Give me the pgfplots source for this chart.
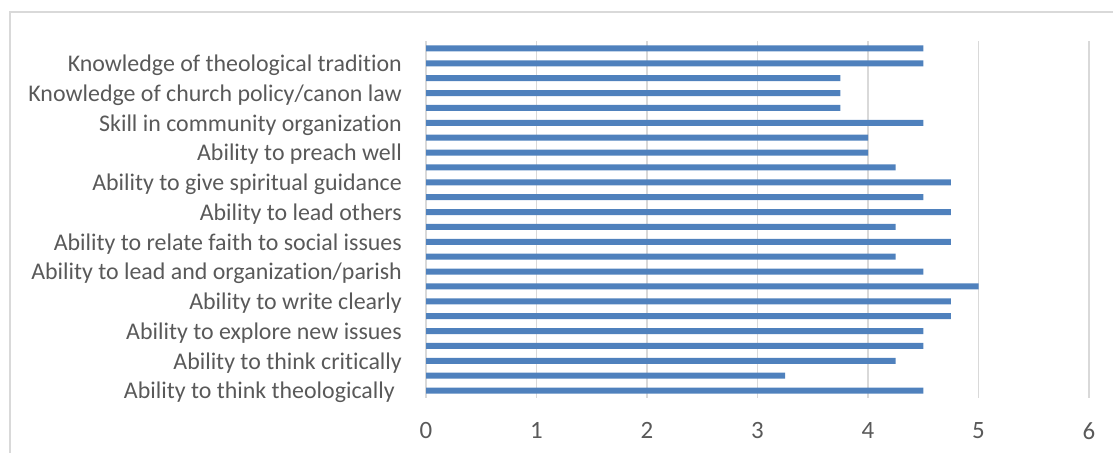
\documentclass[border=0pt]{standalone}
\usepackage{pgfplots}
\pgfplotsset{compat=1.18}
\usepackage{fontspec}
\setmainfont{Carlito}[Ligatures={NoCommon}]
\definecolor{barblue}{HTML}{4F81BD}
\definecolor{gridgray}{HTML}{D9D9D9}
\definecolor{textgray}{HTML}{595959}
\begin{document}
\begin{tikzpicture}[x=1bp,y=1bp]
\useasboundingbox (0,0) rectangle (1113,453);
% chart frame (only top and left visible)
\draw[gridgray, line width=1.5bp] (10,0) -- (10,441) -- (1113,441);
\begin{axis}[
    at={(426bp,55bp)}, anchor=south west,
    scale only axis,
    width=663bp, height=357bp,
    xbar, bar width=6bp,
    xmin=0, xmax=6,
    ymin=0.5, ymax=24.5,
    xtick={0,...,6},
    ytick={1,3,...,23},
    yticklabels={
        Ability to think theologically\kern7bp,
        Ability to think critically,
        Ability to explore new issues,
        Ability to write clearly,
        Ability to lead and organization/parish,
        Ability to relate faith to social issues,
        Ability to lead others,
        Ability to give spiritual guidance,
        Ability to preach well,
        Skill in community organization,
        Knowledge of church policy/canon law,
        Knowledge of theological tradition},
    axis line style={draw=none},
    major tick length=0pt,
    xmajorgrids,
    grid style={gridgray, line width=1.5bp},
    yticklabel style={font=\fontsize{24}{26}\selectfont, text=textgray, inner sep=0pt, xshift=-24bp, yshift=-2bp},
    xticklabel style={font=\fontsize{25}{27}\selectfont, text=textgray, inner sep=0pt, yshift=-24bp},
    /pgf/number format/assume math mode=true,
]
\addplot[fill=barblue, draw=none] coordinates {
    (4.5,1) (3.25,2) (4.25,3) (4.5,4) (4.5,5) (4.75,6)
    (4.75,7) (5,8) (4.5,9) (4.25,10) (4.75,11) (4.25,12)
    (4.75,13) (4.5,14) (4.75,15) (4.25,16) (4,17) (4,18)
    (4.5,19) (3.75,20) (3.75,21) (3.75,22) (4.5,23) (4.5,24)
};
\end{axis}
\end{tikzpicture}
\end{document}
